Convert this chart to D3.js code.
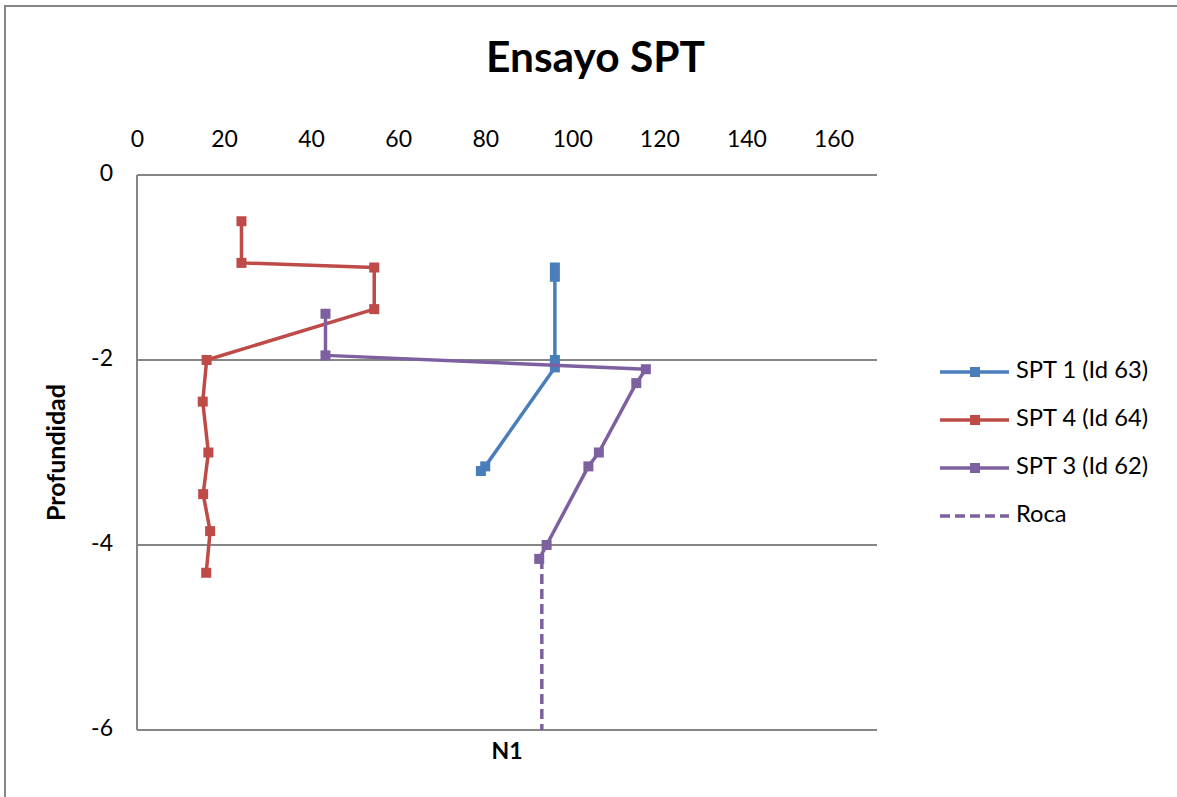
<!DOCTYPE html>
<html>
<head>
<meta charset="utf-8">
<script src="https://cdn.jsdelivr.net/npm/d3@7"></script>
<style>
  html, body { margin: 0; padding: 0; background: #fff; }
  svg { display: block; font-family: Lato, "Open Sans", sans-serif; }
</style>
</head>
<body>
<svg id="chart" width="1177" height="797"></svg>
<script>
// ---- data ----
const title = "Ensayo SPT";
const xTitle = "N1";
const yTitle = "Profundidad";
const xTicks = [0, 20, 40, 60, 80, 100, 120, 140, 160];
const yTicks = [0, -2, -4, -6];

const spt1Name = "SPT 1 (Id 63)";
const spt1N     = [96, 96, 96, 96, 80, 79];
const spt1Depth = [-1.0, -1.1, -2.0, -2.08, -3.15, -3.2];

const spt4Name = "SPT 4 (Id 64)";
const spt4N     = [24, 24, 54.5, 54.5, 16, 15.1, 16.4, 15.2, 16.8, 15.9];
const spt4Depth = [-0.5, -0.95, -1.0, -1.45, -2.0, -2.45, -3.0, -3.45, -3.85, -4.3];

const spt3Name = "SPT 3 (Id 62)";
const spt3N     = [43.3, 43.3, 116.9, 114.7, 106.1, 103.7, 94.1, 92.4];
const spt3Depth = [-1.5, -1.95, -2.1, -2.25, -3.0, -3.15, -4.0, -4.15];

const rocaName = "Roca";
const rocaN     = [93, 93];
const rocaDepth = [-4.15, -6];

// ---- build series ----
const zip = (xs, ys) => xs.map((x, i) => ({ x, y: ys[i] }));
const series = [
  { name: spt1Name, pts: zip(spt1N, spt1Depth), color: "#4A7EBB", marker: true, dash: null },
  { name: spt4Name, pts: zip(spt4N, spt4Depth), color: "#BE4B48", marker: true, dash: null },
  { name: spt3Name, pts: zip(spt3N, spt3Depth), color: "#7D60A0", marker: true, dash: null },
  { name: rocaName, pts: zip(rocaN, rocaDepth), color: "#7D60A0", marker: false, dash: "10,5" }
];

// ---- layout ----
const svg = d3.select("#chart");
const plot = { left: 137, right: 877, top: 175, bottom: 730 };
const x = d3.scaleLinear().domain([0, 170]).range([plot.left, plot.right]);
const y = d3.scaleLinear().domain([0, -6]).range([plot.top, plot.bottom]);
const gridColor = "#868686";

function fit(sel, target) {
  const w = sel.node().getComputedTextLength();
  const fs = parseFloat(sel.attr("font-size"));
  sel.attr("font-size", fs * target / w);
  return fs * target / w;
}

// outer frame
svg.append("rect").attr("x", 5).attr("y", 6).attr("width", 1200).attr("height", 820)
  .attr("fill", "#fff").attr("stroke", gridColor).attr("stroke-width", 2);

// title
const t = svg.append("text").attr("x", 595.5).attr("y", 72).attr("text-anchor", "middle")
  .attr("font-weight", "bold").attr("font-size", 40).attr("fill", "#000").text(title);
fit(t, 219);

// gridlines (horizontal, at y ticks)
svg.append("g").selectAll("line").data(yTicks).join("line")
  .attr("x1", plot.left).attr("x2", plot.right)
  .attr("y1", d => y(d)).attr("y2", d => y(d))
  .attr("stroke", gridColor).attr("stroke-width", 2);

// y axis line
svg.append("line").attr("x1", plot.left).attr("x2", plot.left)
  .attr("y1", plot.top).attr("y2", plot.bottom)
  .attr("stroke", gridColor).attr("stroke-width", 2);

// x axis (top)
const xAxis = svg.append("g").attr("transform", `translate(0,${plot.top})`)
  .call(d3.axisTop(x).tickValues(xTicks).tickSize(0).tickPadding(0).tickFormat(d => String(d)));
xAxis.select(".domain").remove();
xAxis.selectAll("text").attr("font-size", 23).attr("fill", "#000")
  .attr("font-family", "Lato, 'Open Sans', sans-serif")
  .attr("dy", null).attr("y", -34).attr("dominant-baseline", "middle");

// y axis
const yAxis = svg.append("g").attr("transform", `translate(${plot.left},0)`)
  .call(d3.axisLeft(y).tickValues(yTicks).tickSize(0).tickPadding(0).tickFormat(d => String(d)));
yAxis.select(".domain").remove();
yAxis.selectAll("text").attr("font-size", 23).attr("fill", "#000")
  .attr("font-family", "Lato, 'Open Sans', sans-serif")
  .attr("x", -24).attr("dy", null).attr("dominant-baseline", "middle");

// axis titles
const yt = svg.append("text").attr("transform", "translate(65,452.5) rotate(-90)")
  .attr("text-anchor", "middle").attr("font-weight", "bold").attr("font-size", 24)
  .attr("fill", "#000").text(yTitle);
fit(yt, 137);
const xt = svg.append("text").attr("x", 507).attr("y", 759).attr("text-anchor", "middle")
  .attr("font-weight", "bold").attr("font-size", 23).attr("fill", "#000").text(xTitle);

// series
const line = d3.line().x(d => x(d.x)).y(d => y(d.y));
const ms = 10;
series.forEach(s => {
  svg.append("path").datum(s.pts).attr("d", line).attr("fill", "none")
    .attr("stroke", s.color).attr("stroke-width", 3.5)
    .attr("stroke-linejoin", "round")
    .attr("stroke-dasharray", s.dash);
  if (s.marker) {
    svg.append("g").selectAll("rect").data(s.pts).join("rect")
      .attr("x", d => x(d.x) - ms / 2).attr("y", d => y(d.y) - ms / 2)
      .attr("width", ms).attr("height", ms).attr("fill", s.color);
  }
});

// legend
const lg = svg.append("g");
const rowY = d3.scalePoint().domain(series.map(s => s.name)).range([372, 516]);
series.forEach(s => {
  const yy = rowY(s.name);
  lg.append("line").attr("x1", 940).attr("x2", 1009).attr("y1", yy).attr("y2", yy)
    .attr("stroke", s.color).attr("stroke-width", 3.5).attr("stroke-dasharray", s.dash);
  if (s.marker) {
    lg.append("rect").attr("x", 975 - ms / 2).attr("y", yy - ms / 2)
      .attr("width", ms).attr("height", ms).attr("fill", s.color);
  }
  lg.append("text").attr("x", 1016).attr("y", yy).attr("dominant-baseline", "middle")
    .attr("font-size", 22).attr("fill", "#000").text(s.name);
});
const first = lg.select("text");
const lfs = (function(){ const w = first.node().getComputedTextLength(); return 22 * 132 / w; })();
lg.selectAll("text").attr("font-size", lfs);
</script>
</body>
</html>
